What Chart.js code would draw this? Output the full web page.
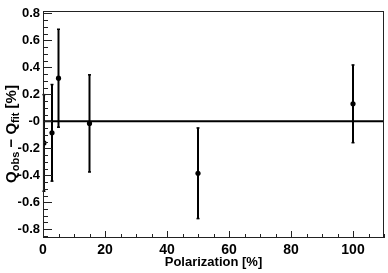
<!DOCTYPE html>
<html>
<head>
<meta charset="utf-8">
<script src="https://cdn.jsdelivr.net/npm/chart.js@4/dist/chart.umd.min.js"></script>
<style>
html,body{margin:0;padding:0;background:#fff;}
#wrap{width:388px;height:273px;position:relative;}
</style>
</head>
<body>
<div id="wrap"><canvas id="c" width="388" height="273"></canvas></div>
<script>
// Data
const polarization = [0.3, 2.9, 5, 15, 50, 100];
const residual     = [-0.16, -0.085, 0.32, -0.015, -0.385, 0.13];
const residualErr  = [0.36, 0.36, 0.365, 0.362, 0.338, 0.29];
const xTickLabels  = ['0', '20', '40', '60', '80', '100'];
const yTickLabels  = ['-0.8', '-0.6', '-0.4', '-0.2', '-0', '0.2', '0.4', '0.6', '0.8'];
const xRange = [0, 110];
const yRange = [-0.865, 0.82];
const zeroLine = [0, 0];

const FONT = 'Liberation Sans, Arial, Helvetica, sans-serif';

const points = polarization.map((x, i) => ({x: x, y: residual[i]}));

const framePlugin = {
  id: 'rootFrame',
  afterDatasetsDraw(chart) {
    const ctx = chart.ctx, a = chart.chartArea;
    const xs = chart.scales.x, ys = chart.scales.y;
    ctx.save();
    // error bars
    ctx.strokeStyle = '#000';
    ctx.lineWidth = 2;
    for (let i = 0; i < polarization.length; i++) {
      const px = xs.getPixelForValue(polarization[i]);
      const y1 = ys.getPixelForValue(residual[i] + residualErr[i]);
      const y2 = ys.getPixelForValue(residual[i] - residualErr[i]);
      ctx.beginPath();
      ctx.moveTo(px, y1); ctx.lineTo(px, y2);
      ctx.stroke();
      ctx.fillStyle = '#000';
      ctx.fillRect(px - 1.5, y1 - 0.5, 3, 1.5);
      ctx.fillRect(px - 1.5, y2 - 1, 3, 1.5);
    }
    // frame
    ctx.lineWidth = 1;
    ctx.strokeStyle = '#222';
    ctx.strokeRect(Math.round(a.left) + 0.5, Math.round(a.top) + 0.5,
                   Math.round(a.right - a.left) - 1, Math.round(a.bottom - a.top) - 1);
    // inward ticks, x axis
    ctx.beginPath();
    for (let v = 0; v <= xRange[1] + 1e-9; v += 5) {
      const px = Math.round(xs.getPixelForValue(v)) + 0.5;
      const len = (v % 20 === 0) ? 7 : 4;
      ctx.moveTo(px, a.bottom);
      ctx.lineTo(px, a.bottom - len);
    }
    // inward ticks, y axis
    for (let k = -17; k <= 16; k++) {
      const v = k * 0.05;
      if (v < yRange[0] - 1e-9 || v > yRange[1] + 1e-9) continue;
      const py = Math.round(ys.getPixelForValue(v)) + 0.5;
      const len = (k % 4 === 0) ? 9 : 5;
      ctx.moveTo(a.left, py);
      ctx.lineTo(a.left + len, py);
    }
    ctx.stroke();
    ctx.restore();
  },
  afterDraw(chart) {
    // y axis title with subscripts
    const ctx = chart.ctx;
    ctx.save();
    ctx.translate(16, 134);
    ctx.rotate(-Math.PI / 2);
    ctx.fillStyle = '#000';
    ctx.textBaseline = 'alphabetic';
    const big = 'bold 15px ' + FONT, small = 'bold 11px ' + FONT;
    const parts = [
      ['Q', big, 0], ['obs', small, 3], [' \u2212 ', big, 0],
      ['Q', big, 0], ['fit', small, 3], [' [%]', big, 0]
    ];
    let total = 0;
    for (const p of parts) { ctx.font = p[1]; total += ctx.measureText(p[0]).width; }
    let x = -total / 2;
    for (const p of parts) {
      ctx.font = p[1];
      ctx.fillText(p[0], x, p[2]);
      x += ctx.measureText(p[0]).width;
    }
    ctx.restore();
  }
};

new Chart(document.getElementById('c'), {
  type: 'scatter',
  data: {
    datasets: [
      {
        type: 'line',
        data: xRange.map((x, i) => ({x: x, y: zeroLine[i]})),
        borderColor: '#000',
        borderWidth: 2,
        pointRadius: 0,
        showLine: true,
        order: 2
      },
      {
        data: points,
        backgroundColor: '#000',
        borderColor: '#000',
        pointRadius: 2.6,
        pointBorderWidth: 0,
        order: 1
      }
    ]
  },
  options: {
    responsive: false,
    animation: false,
    events: [],
    layout: {padding: {top: 5, right: 2, left: 0, bottom: 0}},
    plugins: {legend: {display: false}, tooltip: {enabled: false}, title: {display: false}},
    scales: {
      x: {
        type: 'linear',
        min: xRange[0], max: xRange[1],
        grid: {display: false, drawTicks: false},
        border: {display: false},
        ticks: {
          stepSize: 20, includeBounds: false, maxRotation: 0, padding: 4,
          color: '#000', font: {family: FONT, size: 14, weight: 'bold'},
          callback: (v) => { const i = Math.round(v / 20); return xTickLabels[i] !== undefined && Math.abs(v - i * 20) < 1e-6 ? xTickLabels[i] : ''; }
        },
        title: {display: true, text: 'Polarization [%]', color: '#000', padding: {top: 0, bottom: 3},
                font: {family: FONT, size: 13, weight: 'bold'}},
        afterFit: (s) => { s.height = 35; }
      },
      y: {
        type: 'linear',
        min: yRange[0], max: yRange[1],
        grid: {display: false, drawTicks: false},
        border: {display: false},
        ticks: {
          stepSize: 0.2, includeBounds: false, padding: 3,
          color: '#000', font: {family: FONT, size: 13, weight: 'bold'},
          callback: (v) => { const i = Math.round(v / 0.2) + 4; return (i >= 0 && i < yTickLabels.length && Math.abs(v - (i - 4) * 0.2) < 1e-6) ? yTickLabels[i] : ''; }
        },
        afterFit: (s) => { s.width = 43; }
      }
    }
  },
  plugins: [framePlugin]
});
</script>
</body>
</html>
